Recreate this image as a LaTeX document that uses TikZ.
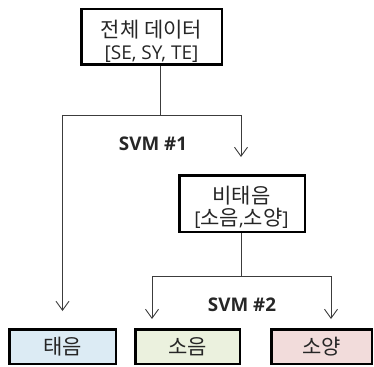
\documentclass[tikz,border=0pt]{standalone}
\usepackage{fontspec}
\setmainfont{Open Sans}
\newfontfamily\krfont{Noto Sans CJK KR}
\newcommand{\kr}[1]{{\krfont\fontsize{21}{22}\selectfont #1}}
\usetikzlibrary{arrows.meta}
\definecolor{taeblue}{HTML}{DCEBF4}
\definecolor{soumgreen}{HTML}{EBF1DE}
\definecolor{soyangred}{HTML}{F2DCDB}
\definecolor{linegray}{HTML}{3C3C3C}

\begin{document}
\begin{tikzpicture}[x=1pt,y=-1pt,
		box/.style={draw=black,line width=2.5pt,inner sep=0pt,align=center,
			font=\fontsize{19}{22}\selectfont,text=black!85},
		boxtext/.style={inner sep=0pt,align=center,font=\fontsize{19}{22}\selectfont,text=black!85},
		conn/.style={draw=linegray,line width=0.9pt},
		>={Straight Barb[length=9pt,width=13pt,line width=0.9pt]}]
		\useasboundingbox (0,0) rectangle (374,366);
		\node[box,minimum width=140.5pt,minimum height=55.5pt] (all) at (151.5,37) {}; %전체
		\node[boxtext] (alltext) at (151.5,41.5) {\kr{전체 데이터}\\{[}SE, SY, TE{]}};
		\node[box,minimum width=125.5pt,minimum height=56.5pt] (nontae) at (242,203.5) {}; %비태음
		\node[boxtext] (nontaetext) at (241.5,207) {\kr{비태음}\\{[}\kr{소음},\kr{소양}{]}};
		\node[box,fill=taeblue,minimum width=106.5pt,minimum height=34.5pt] (tae) at (62.5,346.5) {\kr{태음}};
		\node[box,fill=soumgreen,minimum width=104.5pt,minimum height=34.5pt] (soum) at (187.5,346.5) {\kr{소음}};
		\node[box,fill=soyangred,minimum width=100.5pt,minimum height=34.5pt] (soyang) at (321.5,346.5) {\kr{소양}};
		\coordinate (s1) at (160,115); %분기점1
		\coordinate (s1l) at (62.5,115);
		\coordinate (s1r) at (241,115);
		\coordinate (s2l) at (152,276); %분기점2
		\coordinate (s2r) at (331,276);
		\draw[conn] (all.south -| s1)--(s1);
		\draw[conn,->,shorten >=17pt] (s1l)--(s1r)--(s1r |- nontae.north);
		\draw[conn,->,shorten >=17pt] (s1l)--(tae.north);
		\draw[conn] (nontae.south -| s1r)--(s2l -| s1r);
		\draw[conn,->,shorten >=9pt] (s2r)--(s2l)--(s2l |- soum.north);
		\draw[conn,->,shorten >=9pt] (s2r)--(s2r |- soyang.north);
		\node[font=\fontsize{18.8}{22}\selectfont\bfseries,text=black!85] (svm1) at (153,143.5) {SVM \#1};
		\node[font=\fontsize{18.8}{22}\selectfont\bfseries,text=black!85] (svm2) at (242,305) {SVM \#2};
	\end{tikzpicture}
\end{document}
